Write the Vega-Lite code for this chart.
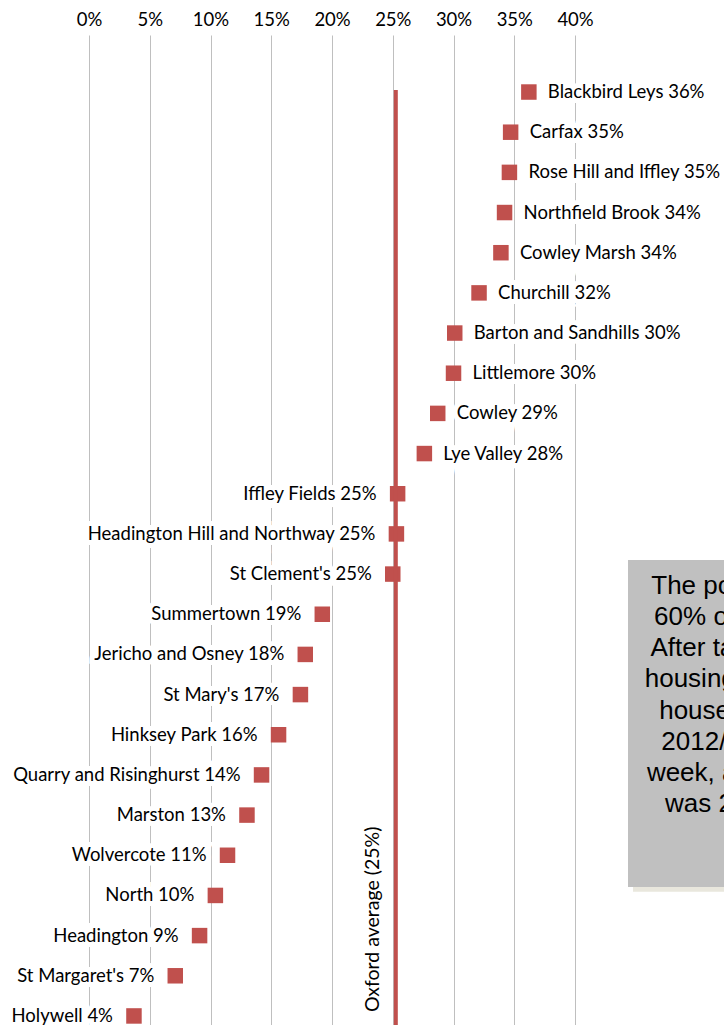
{
  "$schema": "https://vega.github.io/schema/vega-lite/v6.json",
  "width": 635,
  "height": 990,
  "autosize": {"type": "none"},
  "padding": {"left": 89, "top": 35, "right": 0, "bottom": 0},
  "background": "white",
  "config": {"view": {"stroke": null}, "font": "Lato"},
  "datasets": {
    "wards": [
      {"ward": "Blackbird Leys", "pct": 36.2, "label": "Blackbird Leys 36%"},
      {"ward": "Carfax", "pct": 34.7, "label": "Carfax 35%"},
      {"ward": "Rose Hill and Iffley", "pct": 34.6, "label": "Rose Hill and Iffley 35%"},
      {"ward": "Northfield Brook", "pct": 34.2, "label": "Northfield Brook 34%"},
      {"ward": "Cowley Marsh", "pct": 33.9, "label": "Cowley Marsh 34%"},
      {"ward": "Churchill", "pct": 32.1, "label": "Churchill 32%"},
      {"ward": "Barton and Sandhills", "pct": 30.1, "label": "Barton and Sandhills 30%"},
      {"ward": "Littlemore", "pct": 30.0, "label": "Littlemore 30%"},
      {"ward": "Cowley", "pct": 28.7, "label": "Cowley 29%"},
      {"ward": "Lye Valley", "pct": 27.6, "label": "Lye Valley 28%"},
      {"ward": "Iffley Fields", "pct": 25.4, "label": "Iffley Fields 25%"},
      {"ward": "Headington Hill and Northway", "pct": 25.3, "label": "Headington Hill and Northway 25%"},
      {"ward": "St Clement's", "pct": 25.0, "label": "St Clement's 25%"},
      {"ward": "Summertown", "pct": 19.2, "label": "Summertown 19%"},
      {"ward": "Jericho and Osney", "pct": 17.8, "label": "Jericho and Osney 18%"},
      {"ward": "St Mary's", "pct": 17.4, "label": "St Mary's 17%"},
      {"ward": "Hinksey Park", "pct": 15.6, "label": "Hinksey Park 16%"},
      {"ward": "Quarry and Risinghurst", "pct": 14.2, "label": "Quarry and Risinghurst 14%"},
      {"ward": "Marston", "pct": 13.0, "label": "Marston 13%"},
      {"ward": "Wolvercote", "pct": 11.4, "label": "Wolvercote 11%"},
      {"ward": "North", "pct": 10.4, "label": "North 10%"},
      {"ward": "Headington", "pct": 9.1, "label": "Headington 9%"},
      {"ward": "St Margaret's", "pct": 7.1, "label": "St Margaret's 7%"},
      {"ward": "Holywell", "pct": 3.7, "label": "Holywell 4%"}
    ],
    "avg": [{"x": 25.25, "y": 0.95, "y2": 24.3, "ylab": 23.9, "label": "Oxford average (25%)"}],
    "note": [{"x": 44.36, "x2": 62, "y": 12.65, "y2": 20.79, "sx": 44.77, "sx2": 62, "sy": 12.77, "sy2": 20.91, "cx": 57.69, "ty": 13.5,
      "text": "The poverty threshold is\n60% of median income.\nAfter taking into account\nhousing costs, the typical\nhousehold threshold in\n2012/13 was £289 per\nweek, and the proportion\nwas 25% in all wards."}]
  },
  "layer": [
    {
      "data": {"name": "wards"},
      "encoding": {
        "x": {"field": "pct", "type": "quantitative",
          "scale": {"domain": [0, 52.26], "nice": false, "zero": false},
          "axis": {"orient": "top", "values": [0, 5, 10, 15, 20, 25, 30, 35, 40], "labelExpr": "datum.value + '%'",
            "grid": true, "gridColor": "#BFBFBF", "gridWidth": 1, "ticks": false, "domain": false,
            "labelFont": "Lato", "labelFontSize": 18.5, "labelColor": "#000000", "labelPadding": 6, "title": null, "labelFlush": false}},
        "y": {"field": "ward", "type": "nominal", "sort": null,
          "scale": {"type": "point", "padding": 0.8225, "align": 0.863}, "axis": null}
      },
      "layer": [
        {"transform": [{"filter": "datum.pct >= 27"}],
          "mark": {"type": "text", "align": "left", "baseline": "middle", "dx": 19, "fontSize": 18.5, "font": "Lato", "stroke": "white", "strokeWidth": 10, "fill": "white"},
          "encoding": {"text": {"field": "label"}}},
        {"transform": [{"filter": "datum.pct < 27"}],
          "mark": {"type": "text", "align": "right", "baseline": "middle", "dx": -21, "fontSize": 18.5, "font": "Lato", "stroke": "white", "strokeWidth": 10, "fill": "white"},
          "encoding": {"text": {"field": "label"}}},
        {"transform": [{"filter": "datum.pct >= 27"}],
          "mark": {"type": "text", "align": "left", "baseline": "middle", "dx": 19, "fontSize": 18.5, "font": "Lato", "color": "#000000"},
          "encoding": {"text": {"field": "label"}}},
        {"transform": [{"filter": "datum.pct < 27"}],
          "mark": {"type": "text", "align": "right", "baseline": "middle", "dx": -21, "fontSize": 18.5, "font": "Lato", "color": "#000000"},
          "encoding": {"text": {"field": "label"}}},
        {"mark": {"type": "point", "shape": "square", "filled": true, "size": 240, "color": "#C0504D", "opacity": 1}}
      ]
    },
    {
      "layer": [
        {"data": {"name": "note"},
          "mark": {"type": "rect", "color": "#E9E7DD", "clip": true},
          "encoding": {
            "x": {"field": "sx", "type": "quantitative"}, "x2": {"field": "sx2"},
            "y": {"field": "sy", "type": "quantitative", "scale": {"domain": [-0.419, 24.224], "reverse": true, "nice": false, "zero": false}, "axis": null},
            "y2": {"field": "sy2"}}},
        {"data": {"name": "note"},
          "mark": {"type": "rect", "color": "#C0C0C0", "clip": true},
          "encoding": {
            "x": {"field": "x", "type": "quantitative"}, "x2": {"field": "x2"},
            "y": {"field": "y", "type": "quantitative"}, "y2": {"field": "y2"}}},
        {"data": {"name": "note"},
          "mark": {"type": "text", "align": "center", "baseline": "alphabetic", "lineBreak": "\n", "lineHeight": 31.1, "font": "Liberation Sans", "fontSize": 26, "color": "#000000", "clip": true},
          "encoding": {
            "x": {"field": "cx", "type": "quantitative"},
            "y": {"field": "ty", "type": "quantitative"},
            "text": {"field": "text"}}},
        {"data": {"name": "avg"},
          "mark": {"type": "rule", "color": "#C0504D", "strokeWidth": 4},
          "encoding": {
            "x": {"field": "x", "type": "quantitative"},
            "y": {"field": "y", "type": "quantitative"}, "y2": {"field": "y2"}}},
        {"data": {"name": "avg"},
          "mark": {"type": "text", "angle": 270, "align": "left", "baseline": "middle", "dy": -23, "fontSize": 19.5, "font": "Lato", "color": "#000000"},
          "encoding": {
            "x": {"field": "x", "type": "quantitative"},
            "y": {"field": "ylab", "type": "quantitative"},
            "text": {"field": "label"}}}
      ]
    }
  ],
  "resolve": {"scale": {"y": "independent"}}
}
